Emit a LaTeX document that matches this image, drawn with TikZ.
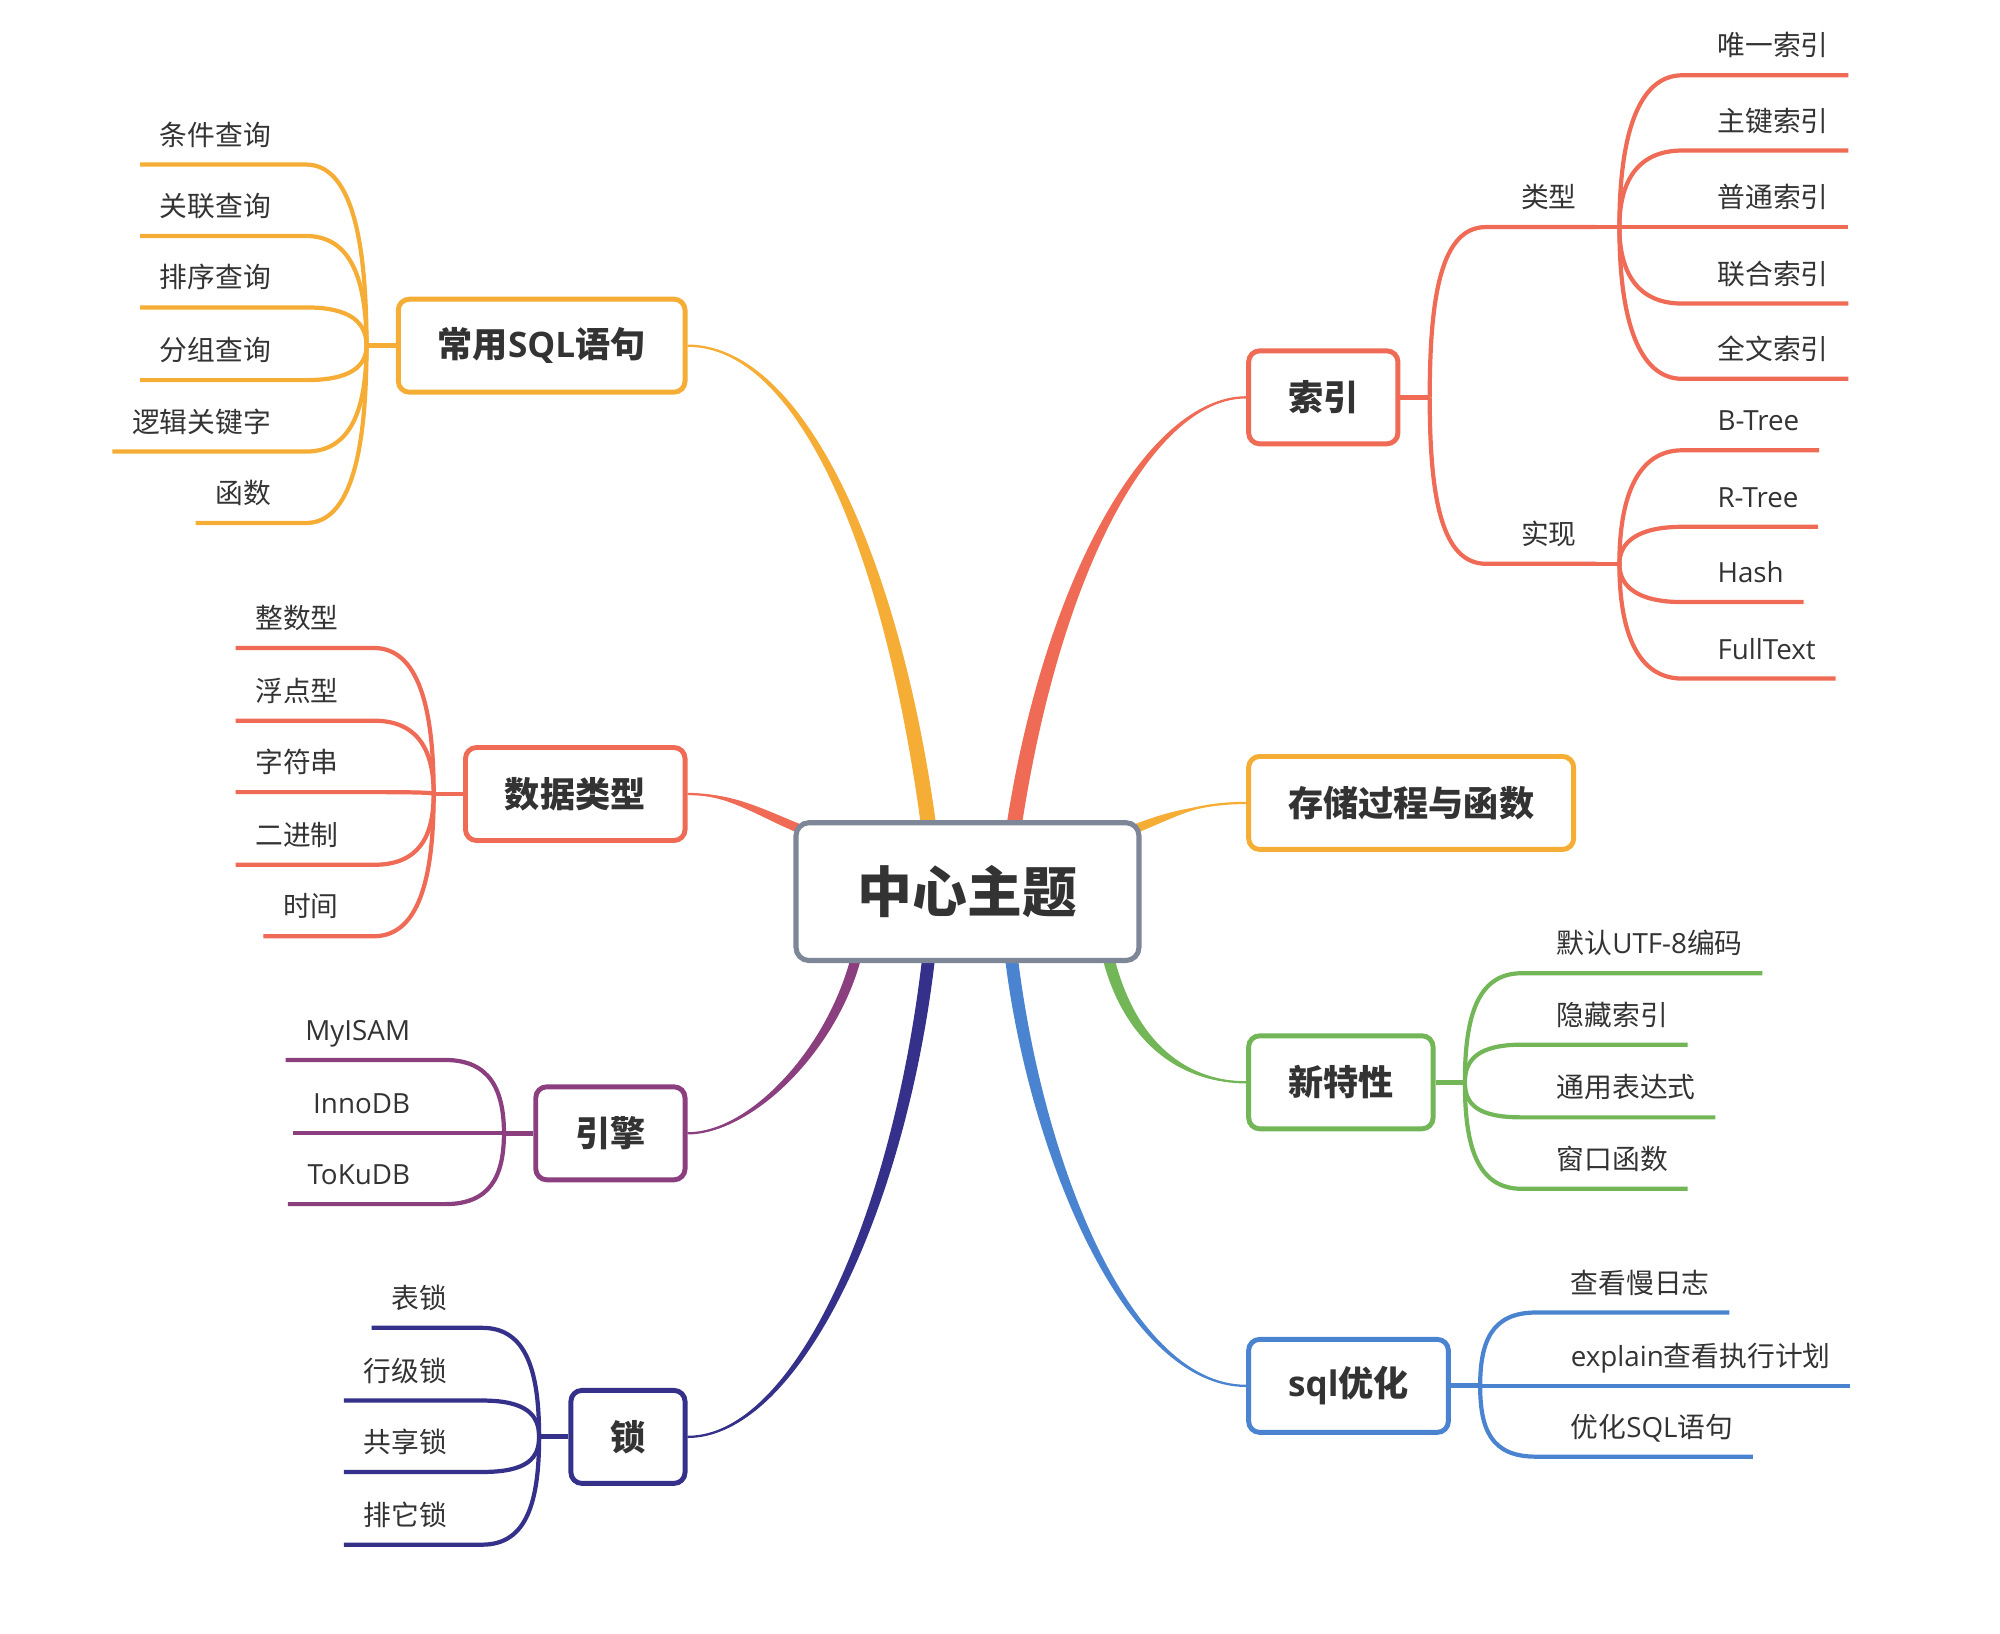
\documentclass[tikz,border=0pt]{standalone}
\usepackage{fontspec}
\setmainfont{Noto Sans CJK SC}
\newfontfamily\os{Open Sans}
\usetikzlibrary{calc,backgrounds}

\definecolor{sqlc}{HTML}{F5AD35}
\definecolor{idxc}{HTML}{EF6B56}
\definecolor{engc}{HTML}{8B3F7F}
\definecolor{lockc}{HTML}{35318B}
\definecolor{newc}{HTML}{73B657}
\definecolor{optc}{HTML}{4A84D0}
\definecolor{themec}{HTML}{7E8797}
\definecolor{ink}{HTML}{333333}

\begin{document}
\begin{tikzpicture}[
        x=0.012755cm, y=0.012755cm,
        central/.style={
            rectangle,
            rounded corners=0.13cm,
            draw=themec,
            line width=1.45pt,
            fill=white,
            minimum width=3.43cm,
            minimum height=1.378cm,
            text=ink,
            font=\bfseries\fontsize{15.6pt}{18pt}\selectfont
        },
        topic/.style={
            rectangle,
            rounded corners=0.11cm,
            line width=1.4pt,
            fill=white,
            inner xsep=0.395cm,
            minimum height=0.93cm,
            text=ink,
            font=\bfseries\fontsize{10pt}{12pt}\selectfont
        },
        leaf/.style={
            inner xsep=0.191cm,
            inner ysep=0pt,
            text depth=0.1875cm,
            text=ink,
            font=\fontsize{7.9pt}{9pt}\selectfont
        },
        stub/.style={line width=1.4pt},
        twig/.style={line width=1.2pt},
        spine/.style={line width=0.65pt}
    ]

    \useasboundingbox (0,0) rectangle (1568,-1281);

    \node[central] (theme) at (758.5,-699) {中心主题};

    \node[topic, draw=sqlc, anchor=east] (sql) at (539,-271) {常用{\os SQL}语句};
    \node[topic, draw=idxc, anchor=west] (idx) at (977,-311.5) {索引};
    \node[topic, draw=idxc, anchor=east] (dtype) at (539,-622.5) {数据类型};
    \node[topic, draw=sqlc, anchor=west] (proc) at (977,-629.5) {存储过程与函数};
    \node[topic, draw=newc, anchor=west] (newf) at (977,-848.5) {新特性};
    \node[topic, draw=engc, anchor=east] (eng) at (539,-888.5) {引擎};
    \node[topic, draw=optc, anchor=west] (opt) at (977,-1086.5) {{\os sql}优化};
    \node[topic, draw=lockc, anchor=east] (lock) at (539,-1126.5) {锁};

    \begin{scope}[on background layer]
    \fill[sqlc] ($(theme.north)+(-24,-8)$) .. controls +(-28,213) and +(90,3) .. (sql.east)
        .. controls +(90,-3) and +(-28,213) .. ($(theme.north)+(-36,-8)$) -- cycle;
    \draw[spine, sqlc] ($(theme.north)+(-30,-8)$) .. controls +(-28,213) and +(90,0) .. (sql.east);

    \fill[idxc] ($(theme.north)+(42,-8)$) .. controls +(30,200) and +(-75,-3) .. (idx.west)
        .. controls +(-75,3) and +(30,200) .. ($(theme.north)+(30,-8)$) -- cycle;
    \draw[spine, idxc] ($(theme.north)+(36,-8)$) .. controls +(30,200) and +(-75,0) .. (idx.west);

    \fill[idxc] ($(theme.north west)+(9.3,-4.75)$) .. controls +(-35,14) and +(35,1.5) .. (dtype.east)
        .. controls +(35,-1.5) and +(-35,14) .. ($(theme.north west)+(6.7,-11.25)$) -- cycle;
    \draw[spine, idxc] ($(theme.north west)+(8,-8)$) .. controls +(-35,14) and +(35,0) .. (dtype.east);

    \fill[sqlc] ($(theme.north east)+(-9.3,-4.75)$) .. controls +(35,14) and +(-35,-1.5) .. (proc.west)
        .. controls +(-35,1.5) and +(35,14) .. ($(theme.north east)+(-6.7,-11.25)$) -- cycle;
    \draw[spine, sqlc] ($(theme.north east)+(-8,-8)$) .. controls +(35,14) and +(-35,0) .. (proc.west);

    \fill[newc] ($(theme.south east)+(-22.6,9.05)$) .. controls +(18,-75) and +(-45,2) .. (newf.west)
        .. controls +(-45,-2) and +(18,-75) .. ($(theme.south east)+(-31.4,6.95)$) -- cycle;
    \draw[spine, newc] ($(theme.south east)+(-27,8)$) .. controls +(18,-75) and +(-45,0) .. (newf.west);

    \fill[optc] ($(theme.south)+(39,8.6)$) .. controls +(18,-155) and +(-95,3) .. (opt.west)
        .. controls +(-95,-3) and +(18,-155) .. ($(theme.south)+(29,7.4)$) -- cycle;
    \draw[spine, optc] ($(theme.south)+(34,8)$) .. controls +(18,-155) and +(-95,0) .. (opt.west);

    \fill[engc] ($(theme.south west)+(53.9,7.06)$) .. controls +(-18,-75) and +(50,-2) .. (eng.east)
        .. controls +(50,2) and +(-18,-75) .. ($(theme.south west)+(46.1,8.94)$) -- cycle;
    \draw[spine, engc] ($(theme.south west)+(50,8)$) .. controls +(-18,-75) and +(50,0) .. (eng.east);

    \fill[lockc] ($(theme.south)+(-25,7.4)$) .. controls +(-23,-205) and +(85,-3) .. (lock.east)
        .. controls +(85,3) and +(-23,-205) .. ($(theme.south)+(-35,8.6)$) -- cycle;
    \draw[spine, lockc] ($(theme.south)+(-30,8)$) .. controls +(-23,-205) and +(85,0) .. (lock.east);
    \end{scope}

    \draw[stub, sqlc] (sql.west) -- ++(-23,0) coordinate (sqlhub);
    \draw[stub, idxc] (idx.east) -- ++(23,0) coordinate (idxhub);
    \draw[stub, idxc] (dtype.west) -- ++(-23,0) coordinate (dtypehub);
    \draw[stub, newc] (newf.east) -- ++(23,0) coordinate (newfhub);
    \draw[stub, engc] (eng.west) -- ++(-23,0) coordinate (enghub);
    \draw[stub, optc] (opt.east) -- ++(23,0) coordinate (opthub);
    \draw[stub, lockc] (lock.west) -- ++(-23,0) coordinate (lockhub);

    \node[leaf, anchor=south east] (cond) at (228,-129) {条件查询};
    \node[leaf, anchor=south east] (joinq) at (228,-185) {关联查询};
    \node[leaf, anchor=south east] (sortq) at (228,-241) {排序查询};
    \node[leaf, anchor=south east] (groupq) at (228,-298) {分组查询};
    \node[leaf, anchor=south east] (logic) at (228,-354) {逻辑关键字};
    \node[leaf, anchor=south east] (func) at (228,-410) {函数};

    \draw[twig, sqlc] (cond.south west) -- (cond.south east) -- ++(12,0) .. controls +(35,0) and +(0,85) .. (sqlhub);
    \draw[twig, sqlc] (joinq.south west) -- (joinq.south east) -- ++(12,0) .. controls +(35,0) and +(0,52) .. (sqlhub);
    \draw[twig, sqlc] (sortq.south west) -- (sortq.south east) -- ++(12,0) .. controls +(35,0) and +(0,18) .. (sqlhub);
    \draw[twig, sqlc] (groupq.south west) -- (groupq.south east) -- ++(12,0) .. controls +(35,0) and +(0,-16) .. (sqlhub);
    \draw[twig, sqlc] (logic.south west) -- (logic.south east) -- ++(12,0) .. controls +(35,0) and +(0,-50) .. (sqlhub);
    \draw[twig, sqlc] (func.south west) -- (func.south east) -- ++(12,0) .. controls +(35,0) and +(0,-83) .. (sqlhub);

    \node[leaf, anchor=south east] (intt) at (281,-508) {整数型};
    \node[leaf, anchor=south east] (floatt) at (281,-565) {浮点型};
    \node[leaf, anchor=south east] (strt) at (281,-621) {字符串};
    \node[leaf, anchor=south east] (bint) at (281,-678) {二进制};
    \node[leaf, anchor=south east] (timet) at (281,-734) {时间};

    \draw[twig, idxc] (intt.south west) -- (intt.south east) -- ++(12,0) .. controls +(35,0) and +(0,68) .. (dtypehub);
    \draw[twig, idxc] (floatt.south west) -- (floatt.south east) -- ++(12,0) .. controls +(35,0) and +(0,34) .. (dtypehub);
    \draw[twig, idxc] (strt.south west) -- (strt.south east) -- ++(12,0) .. controls +(35,0) and +(0,1) .. (dtypehub);
    \draw[twig, idxc] (bint.south west) -- (bint.south east) -- ++(12,0) .. controls +(35,0) and +(0,-34) .. (dtypehub);
    \draw[twig, idxc] (timet.south west) -- (timet.south east) -- ++(12,0) .. controls +(35,0) and +(0,-67) .. (dtypehub);

    \node[leaf, anchor=south east] (myisam) at (337,-831) {{\os MyISAM}};
    \node[leaf, anchor=south east] (innodb) at (337,-888.5) {{\os InnoDB}};
    \node[leaf, anchor=south east] (tokudb) at (337,-944) {{\os ToKuDB}};

    \draw[twig, engc] (myisam.south west) -- (myisam.south east) -- ++(12,0) .. controls +(35,0) and +(0,34) .. (enghub);
    \draw[twig, engc] (innodb.south west) -- (enghub);
    \draw[twig, engc] (tokudb.south west) -- (tokudb.south east) -- ++(12,0) .. controls +(35,0) and +(0,-34) .. (enghub);

    \node[leaf, anchor=south east] (tablel) at (366,-1041) {表锁};
    \node[leaf, anchor=south east] (rowl) at (366,-1098) {行级锁};
    \node[leaf, anchor=south east] (sharel) at (366,-1154) {共享锁};
    \node[leaf, anchor=south east] (excl) at (366,-1211) {排它锁};

    \draw[twig, lockc] (tablel.south west) -- (tablel.south east) -- ++(12,0) .. controls +(35,0) and +(0,51) .. (lockhub);
    \draw[twig, lockc] (rowl.south west) -- (rowl.south east) -- ++(12,0) .. controls +(35,0) and +(0,17) .. (lockhub);
    \draw[twig, lockc] (sharel.south west) -- (sharel.south east) -- ++(12,0) .. controls +(35,0) and +(0,-17) .. (lockhub);
    \draw[twig, lockc] (excl.south west) -- (excl.south east) -- ++(12,0) .. controls +(35,0) and +(0,-51) .. (lockhub);

    \node[leaf, anchor=south west] (kind) at (1177,-178) {类型};
    \node[leaf, anchor=south west] (impl) at (1177,-442) {实现};

    \draw[twig, idxc] (kind.south east) -- (kind.south west) -- ++(-12,0) .. controls +(-35,0) and +(0,80) .. (idxhub);
    \draw[twig, idxc] (impl.south east) -- (impl.south west) -- ++(-12,0) .. controls +(-35,0) and +(0,-78) .. (idxhub);
    \draw[twig, idxc] (kind.south east) -- ++(18,0) coordinate (kindhub);
    \draw[twig, idxc] (impl.south east) -- ++(18,0) coordinate (implhub);

    \node[leaf, anchor=south west] (uniq) at (1331,-59) {唯一索引};
    \node[leaf, anchor=south west] (prim) at (1331,-118) {主键索引};
    \node[leaf, anchor=south west] (norm) at (1331,-178) {普通索引};
    \node[leaf, anchor=south west] (comp) at (1331,-238) {联合索引};
    \node[leaf, anchor=south west] (full) at (1331,-297) {全文索引};

    \draw[twig, idxc] (uniq.south east) -- (uniq.south west) -- ++(-12,0) .. controls +(-35,0) and +(0,71) .. (kindhub);
    \draw[twig, idxc] (prim.south east) -- (prim.south west) -- ++(-12,0) .. controls +(-35,0) and +(0,36) .. (kindhub);
    \draw[twig, idxc] (norm.south east) -- (kindhub);
    \draw[twig, idxc] (comp.south east) -- (comp.south west) -- ++(-12,0) .. controls +(-35,0) and +(0,-36) .. (kindhub);
    \draw[twig, idxc] (full.south east) -- (full.south west) -- ++(-12,0) .. controls +(-35,0) and +(0,-71) .. (kindhub);

    \node[leaf, anchor=south west] (btree) at (1331,-353) {{\os B-Tree}};
    \node[leaf, anchor=south west] (rtree) at (1331,-413) {{\os R-Tree}};
    \node[leaf, anchor=south west] (hash) at (1331,-472) {{\os Hash}};
    \node[leaf, anchor=south west] (fulltext) at (1331,-532) {{\os FullText}};

    \draw[twig, idxc] (btree.south east) -- (btree.south west) -- ++(-12,0) .. controls +(-35,0) and +(0,53) .. (implhub);
    \draw[twig, idxc] (rtree.south east) -- (rtree.south west) -- ++(-12,0) .. controls +(-35,0) and +(0,17) .. (implhub);
    \draw[twig, idxc] (hash.south east) -- (hash.south west) -- ++(-12,0) .. controls +(-35,0) and +(0,-18) .. (implhub);
    \draw[twig, idxc] (fulltext.south east) -- (fulltext.south west) -- ++(-12,0) .. controls +(-35,0) and +(0,-54) .. (implhub);

    \node[leaf, anchor=south west] (utf) at (1205,-763) {默认{\os UTF-8}编码};
    \node[leaf, anchor=south west] (hidden) at (1205,-819) {隐藏索引};
    \node[leaf, anchor=south west] (cte) at (1205,-876) {通用表达式};
    \node[leaf, anchor=south west] (window) at (1205,-932) {窗口函数};

    \draw[twig, newc] (utf.south east) -- (utf.south west) -- ++(-12,0) .. controls +(-35,0) and +(0,51) .. (newfhub);
    \draw[twig, newc] (hidden.south east) -- (hidden.south west) -- ++(-12,0) .. controls +(-35,0) and +(0,17) .. (newfhub);
    \draw[twig, newc] (cte.south east) -- (cte.south west) -- ++(-12,0) .. controls +(-35,0) and +(0,-17) .. (newfhub);
    \draw[twig, newc] (window.south east) -- (window.south west) -- ++(-12,0) .. controls +(-35,0) and +(0,-50) .. (newfhub);

    \node[leaf, anchor=south west] (slowlog) at (1216,-1029) {查看慢日志};
    \node[leaf, anchor=south west] (explain) at (1216,-1086.5) {{\os explain}查看执行计划};
    \node[leaf, anchor=south west] (rewrite) at (1216,-1142) {优化{\os SQL}语句};

    \draw[twig, optc] (slowlog.south east) -- (slowlog.south west) -- ++(-12,0) .. controls +(-35,0) and +(0,34) .. (opthub);
    \draw[twig, optc] (explain.south east) -- (opthub);
    \draw[twig, optc] (rewrite.south east) -- (rewrite.south west) -- ++(-12,0) .. controls +(-35,0) and +(0,-34) .. (opthub);

\end{tikzpicture}
\end{document}
